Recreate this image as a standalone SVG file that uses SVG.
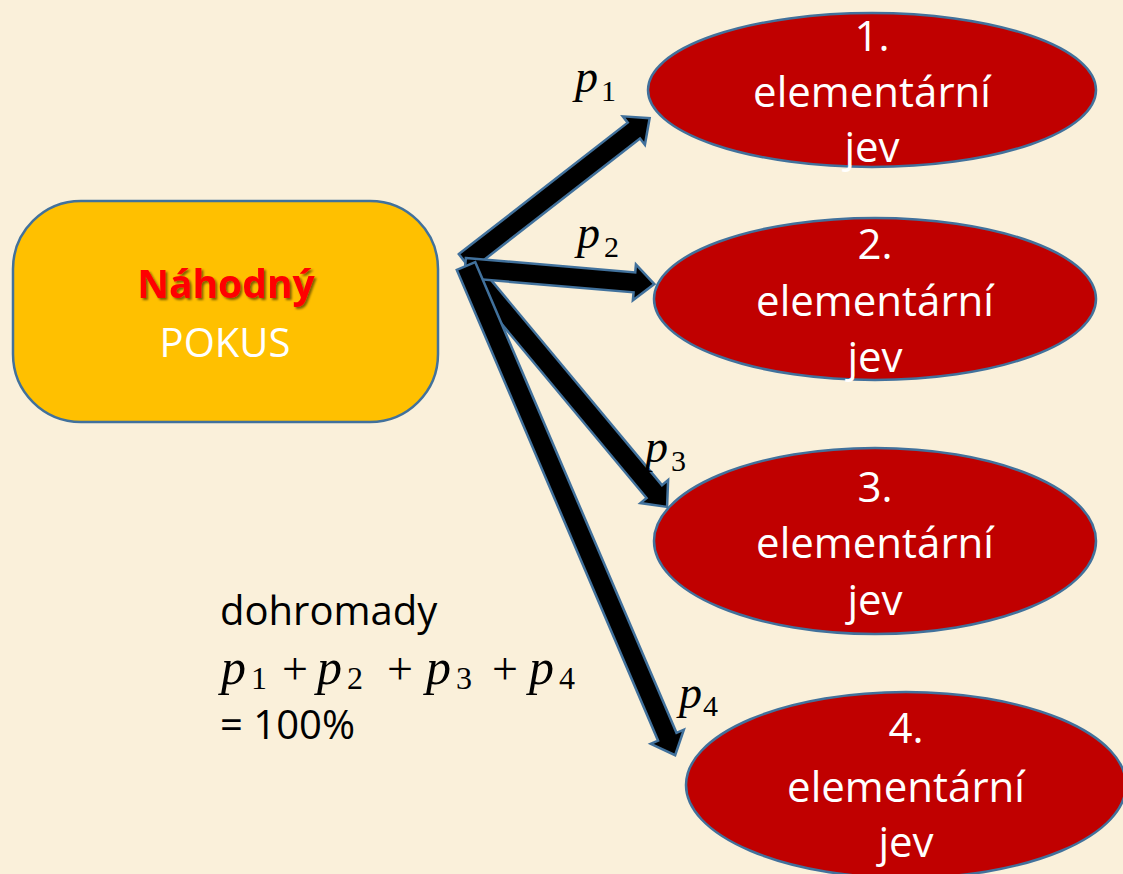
<svg xmlns="http://www.w3.org/2000/svg" width="1123" height="874" viewBox="0 0 1123 874">
<defs>
<style>
.ell{fill:#C00000;stroke:#41719C;stroke-width:2.5}
.arr{fill:#000;stroke:#41719C;stroke-width:2.5;stroke-linejoin:miter}
.lbl{font-family:"Open Sans","Liberation Sans",sans-serif;font-size:42px;fill:#fff;text-anchor:middle}
.txt{font-family:"Open Sans","Liberation Sans",sans-serif;font-size:40px;fill:#000}
.mp{font-family:"Liberation Serif","DejaVu Serif",serif;font-style:italic;fill:#000}
.ms{font-family:"Liberation Serif","DejaVu Serif",serif;fill:#000}
</style>
<filter id="sh" x="-10%" y="-20%" width="130%" height="150%">
<feDropShadow dx="2" dy="2" stdDeviation="1.2" flood-color="#000" flood-opacity="0.5"/>
</filter>
</defs>
<rect width="1123" height="874" fill="#FAF0DA"/>
<g id="connectors">
<path class="arr" transform="translate(465,262) rotate(-37.9)" d="M0,-10 L214,-10 L214,-18 L234,0 L214,18 L214,10 L0,10 Z"/>
<path class="arr" transform="translate(468,268) rotate(50.2)" d="M0,-10 L291,-10 L291,-18 L311,0 L291,18 L291,10 L0,10 Z"/>
<path class="arr" transform="translate(465,268) rotate(4.84)" d="M0,-10 L170,-10 L170,-18 L190,0 L170,18 L170,10 L0,10 Z"/>
<path class="arr" transform="translate(466,266) rotate(66.85)" d="M0,-10 L512,-10 L512,-18 L532,0 L512,18 L512,10 L0,10 Z"/>
</g>
<g id="pokus">
<rect x="13" y="201" width="425" height="221" rx="68" ry="68" fill="#FFC000" stroke="#41719C" stroke-width="2.5"/>
<text x="226" y="298" font-family="'Open Sans','Liberation Sans',sans-serif" font-size="39" font-weight="bold" fill="#FF0000" text-anchor="middle" filter="url(#sh)">Náhodný</text>
<text x="225" y="357" font-family="'Open Sans','Liberation Sans',sans-serif" font-size="40" fill="#fff" text-anchor="middle">POKUS</text>
</g>
<g id="jev1">
<ellipse class="ell" cx="872" cy="90" rx="224" ry="77"/>
<text class="lbl" x="872" y="51">1.</text>
<text class="lbl" x="872" y="107">elementární</text>
<text class="lbl" x="872" y="162">jev</text>
</g>
<g id="jev2">
<ellipse class="ell" cx="875" cy="299" rx="221" ry="81"/>
<text class="lbl" x="875" y="259">2.</text>
<text class="lbl" x="875" y="316">elementární</text>
<text class="lbl" x="875" y="372">jev</text>
</g>
<g id="jev3">
<ellipse class="ell" cx="875" cy="541" rx="221" ry="93"/>
<text class="lbl" x="875" y="502">3.</text>
<text class="lbl" x="875" y="558">elementární</text>
<text class="lbl" x="875" y="615">jev</text>
</g>
<g id="jev4">
<ellipse class="ell" cx="906" cy="785" rx="220" ry="93"/>
<text class="lbl" x="906" y="743">4.</text>
<text class="lbl" x="906" y="802">elementární</text>
<text class="lbl" x="906" y="857">jev</text>
</g>
<g id="labels">
<text class="mp" x="575" y="92" font-size="46">p</text><text class="ms" x="601" y="101" font-size="30">1</text>
<text class="mp" x="577" y="248" font-size="46">p</text><text class="ms" x="604" y="257" font-size="30">2</text>
<text class="mp" x="645" y="462" font-size="46">p</text><text class="ms" x="671" y="471" font-size="30">3</text>
<text class="mp" x="679" y="708" font-size="46">p</text><text class="ms" x="703" y="716" font-size="30">4</text>
</g>
<g id="sum">
<text class="txt" x="220" y="625">dohromady</text>
<text class="mp" x="221" y="684" font-size="50">p</text><text class="ms" x="251" y="689" font-size="32">1</text>
<text class="ms" x="295" y="684" font-size="46" text-anchor="middle">+</text>
<text class="mp" x="317" y="684" font-size="50">p</text><text class="ms" x="347" y="689" font-size="32">2</text>
<text class="ms" x="400" y="684" font-size="46" text-anchor="middle">+</text>
<text class="mp" x="426" y="684" font-size="50">p</text><text class="ms" x="456" y="689" font-size="32">3</text>
<text class="ms" x="505" y="684" font-size="46" text-anchor="middle">+</text>
<text class="mp" x="529" y="684" font-size="50">p</text><text class="ms" x="559" y="689" font-size="32">4</text>
<text class="txt" x="220" y="739">= 100%</text>
</g>
</svg>
